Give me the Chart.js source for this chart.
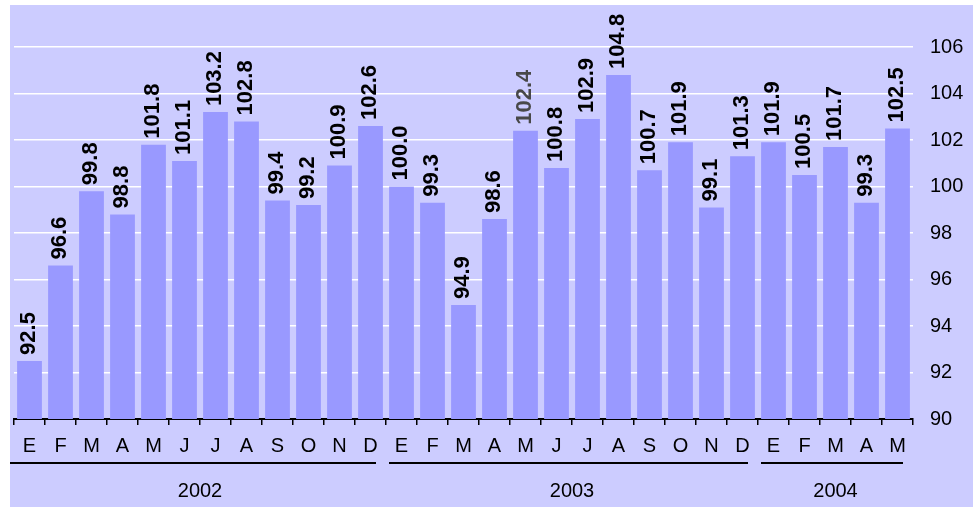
<!DOCTYPE html>
<html>
<head>
<meta charset="utf-8">
<script src="https://cdn.jsdelivr.net/npm/chart.js@4.4.0/dist/chart.umd.min.js"></script>
<style>
  body { margin: 0; background: #fff; }
  canvas { display: block; }
</style>
</head>
<body>
<canvas id="indexChart" width="973" height="508"></canvas>
<script>
// month initials (Spanish), one per bar
const months = ['E','F','M','A','M','J','J','A','S','O','N','D',
                'E','F','M','A','M','J','J','A','S','O','N','D',
                'E','F','M','A','M'];
const values = [92.5, 96.6, 99.8, 98.8, 101.8, 101.1, 103.2, 102.8, 99.4, 99.2, 100.9, 102.6,
                100.0, 99.3, 94.9, 98.6, 102.4, 100.8, 102.9, 104.8, 100.7, 101.9, 99.1, 101.3,
                101.9, 100.5, 101.7, 99.3, 102.5];
const years = ['2002', '2003', '2004'];
const monthsPerYear = [12, 12, 5];
const yTicks = [90, 92, 94, 96, 98, 100, 102, 104, 106];

const backgroundPlugin = {
    id: 'background',
    beforeDraw(chart) {
        const ctx = chart.ctx;
        ctx.save();
        ctx.fillStyle = '#ffffff';
        ctx.fillRect(0, 0, chart.width, chart.height);
        ctx.fillStyle = '#ccccff';
        ctx.fillRect(10, 5, chart.width - 10, chart.height - 6);
        ctx.restore();
    }
};

// value labels, rotated, sitting on top of each bar
const barLabelPlugin = {
    id: 'barLabels',
    afterDatasetsDraw(chart) {
        const ctx = chart.ctx;
        const meta = chart.getDatasetMeta(0);
        meta.data.forEach((bar, i) => {
            ctx.save();
            ctx.translate(bar.x - 1, bar.y - 6);
            ctx.rotate(-Math.PI / 2);
            ctx.textAlign = 'left';
            ctx.textBaseline = 'middle';
            ctx.font = 'bold 22px Arial, "Liberation Sans", sans-serif';
            // the May 2003 label is printed in grey in the original
            ctx.fillStyle = i === 16 ? '#484848' : '#000000';
            ctx.fillText(values[i].toFixed(1), 0, 0);
            ctx.restore();
        });
    }
};

// year underline + year name under each group of months
const yearPlugin = {
    id: 'yearGroups',
    afterDraw(chart) {
        const ctx = chart.ctx;
        const x = chart.scales.x;
        const step = x.getPixelForValue(1) - x.getPixelForValue(0);
        let start = 0;
        ctx.save();
        years.forEach((yr, g) => {
            const end = start + monthsPerYear[g] - 1;
            const left = x.getPixelForValue(start) - step / 2;
            const right = x.getPixelForValue(end) + step / 2;
            const x0 = g === 0 ? left - 4 : left + 3;
            const x1 = right - 10;
            ctx.strokeStyle = '#000';
            ctx.lineWidth = 2;
            ctx.beginPath();
            ctx.moveTo(x0, 463);
            ctx.lineTo(x1, 463);
            ctx.stroke();
            ctx.fillStyle = '#000';
            ctx.font = '20px Arial, "Liberation Sans", sans-serif';
            ctx.textAlign = 'center';
            ctx.textBaseline = 'middle';
            ctx.fillText(yr, (left + right) / 2, 491);
            start = end + 1;
        });
        ctx.restore();
    }
};

const ctx = document.getElementById('indexChart').getContext('2d');

new Chart(ctx, {
    type: 'bar',
    data: {
        labels: months,
        datasets: [{
            data: values,
            backgroundColor: '#9999ff',
            borderWidth: 0,
            barPercentage: 0.8,
            categoryPercentage: 1.0
        }]
    },
    options: {
        responsive: false,
        animation: false,
        layout: { padding: { left: 14, top: 47, right: 0, bottom: 0 } },
        plugins: {
            legend: { display: false },
            tooltip: { enabled: false }
        },
        scales: {
            x: {
                grid: {
                    display: true,
                    drawOnChartArea: false,
                    drawTicks: true,
                    tickLength: 6,
                    color: '#000',
                    lineWidth: 1.5,
                    offset: true
                },
                border: { display: true, color: '#000', width: 2 },
                ticks: {
                    color: '#000',
                    font: { family: 'Arial, "Liberation Sans", sans-serif', size: 20 },
                    padding: 9,
                    maxRotation: 0,
                    autoSkip: false
                },
                afterFit(scale) { scale.height = 89; }
            },
            y: {
                position: 'right',
                min: 90,
                max: 106,
                afterBuildTicks(scale) {
                    scale.ticks = yTicks.map(v => ({ value: v }));
                },
                grid: { color: '#ffffff', lineWidth: 1.5, drawTicks: false },
                border: { display: false },
                ticks: {
                    color: '#000',
                    font: { family: 'Arial, "Liberation Sans", sans-serif', size: 20 },
                    padding: 17
                },
                afterFit(scale) { scale.width = 60; }
            }
        }
    },
    plugins: [backgroundPlugin, barLabelPlugin, yearPlugin]
});
</script>
</body>
</html>
